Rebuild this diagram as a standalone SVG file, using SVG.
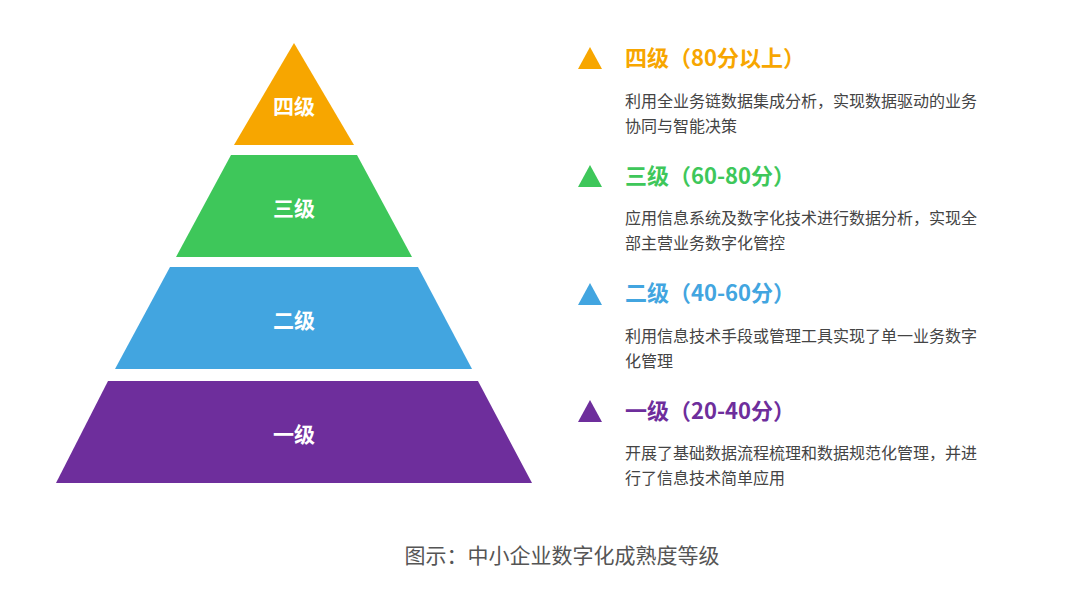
<svg xmlns="http://www.w3.org/2000/svg" width="1080" height="614" viewBox="0 0 1080 614">
<style>
.lbl{font-family:"Noto Sans CJK SC",sans-serif;font-size:21px;font-weight:bold;fill:#fff;text-anchor:middle}
.hd{font-family:"Noto Sans CJK SC",sans-serif;font-size:22px;font-weight:bold}
.ds{font-family:"Noto Sans CJK SC",sans-serif;font-size:16px;fill:#444}
.cap{font-family:"Noto Sans CJK SC",sans-serif;font-size:21px;fill:#555;text-anchor:middle}
</style>
<rect width="1080" height="614" fill="#fff"/>
<g id="tier4"><polygon points="294,43 354,145 234,145" fill="#F7A600"/><text class="lbl" x="294" y="114">四级</text></g>
<g id="tier3"><polygon points="231,155 357,155 412,257 176,257" fill="#3EC75A"/><text class="lbl" x="294" y="216">三级</text></g>
<g id="tier2"><polygon points="170,267 418,267 472,369 115,369" fill="#42A5E0"/><text class="lbl" x="294" y="328">二级</text></g>
<g id="tier1"><polygon points="108,381 478,381 532,483 56,483" fill="#6E2E9C"/><text class="lbl" x="294" y="442">一级</text></g>
<g id="connectors"></g>
<g id="legend4"><polygon points="590,47 602,69 578,69" fill="#F7A600"/><text class="hd" x="625" y="66" fill="#F7A600">四级（80分以上）</text>
<text class="ds" x="625" y="107">利用全业务链数据集成分析，实现数据驱动的业务</text><text class="ds" x="625" y="132">协同与智能决策</text></g>
<g id="legend3"><polygon points="590,165 602,187 578,187" fill="#3EC75A"/><text class="hd" x="625" y="184" fill="#3EC75A">三级（60-80分）</text>
<text class="ds" x="625" y="224">应用信息系统及数字化技术进行数据分析，实现全</text><text class="ds" x="625" y="249">部主营业务数字化管控</text></g>
<g id="legend2"><polygon points="590,283 602,305 578,305" fill="#42A5E0"/><text class="hd" x="625" y="301" fill="#42A5E0">二级（40-60分）</text>
<text class="ds" x="625" y="342">利用信息技术手段或管理工具实现了单一业务数字</text><text class="ds" x="625" y="367">化管理</text></g>
<g id="legend1"><polygon points="590,400 602,422 578,422" fill="#6E2E9C"/><text class="hd" x="625" y="419" fill="#6E2E9C">一级（20-40分）</text>
<text class="ds" x="625" y="459">开展了基础数据流程梳理和数据规范化管理，并进</text><text class="ds" x="625" y="484">行了信息技术简单应用</text></g>
<text class="cap" x="562" y="563">图示：中小企业数字化成熟度等级</text>
</svg>
